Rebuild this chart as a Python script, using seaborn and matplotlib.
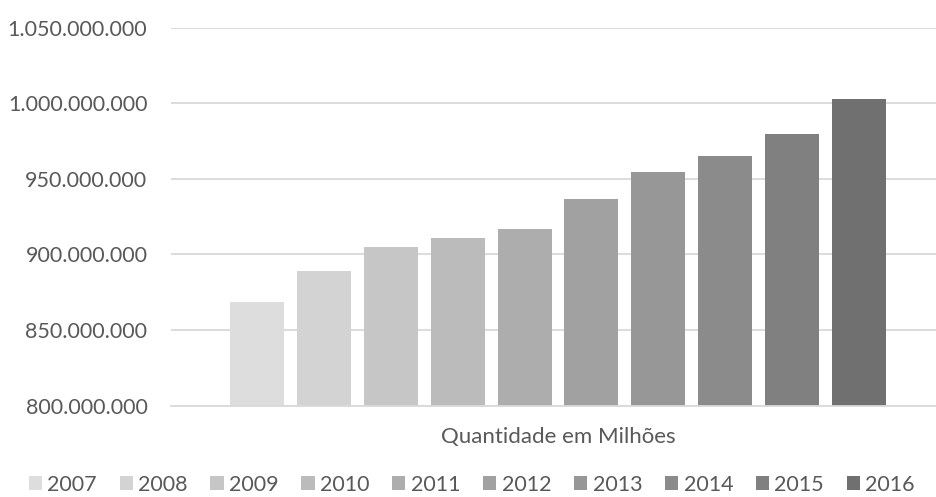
import pandas as pd
import matplotlib.pyplot as plt
import seaborn as sns
from matplotlib.ticker import FuncFormatter, MultipleLocator

# dados (quantidade por ano)
anos = ["2007", "2008", "2009", "2010", "2011", "2012", "2013", "2014", "2015", "2016"]
quantidade = [868600000, 889100000, 904900000, 910900000, 916600000,
              936600000, 954500000, 964800000, 979500000, 1002600000]
categoria = "Quantidade em Milhões"
cores = ["#DDDDDD", "#D3D3D3", "#C6C6C6", "#BBBBBB", "#ADADAD",
         "#A1A1A1", "#979797", "#8B8B8B", "#808080", "#707070"]

df = pd.DataFrame({"categoria": categoria, "ano": anos, "quantidade": quantidade})

sns.set_theme(style="white")
plt.rcParams["font.family"] = ["Lato", "DejaVu Sans"]

fig = plt.figure(figsize=(9.36, 4.97), dpi=100)
ax = fig.add_axes([171 / 936, 1 - 405.7 / 497, 774 / 936, (405.7 - 27.5) / 497])

sns.barplot(data=df, x="categoria", y="quantidade", hue="ano", hue_order=anos,
            palette=cores, width=0.8656, gap=0.194, saturation=1,
            legend=True, ax=ax, linewidth=0)

ax.set_ylim(800000000, 1050000000)
ax.set_xlim(-0.5, 0.5)
ax.yaxis.set_major_locator(MultipleLocator(50000000))
ax.yaxis.set_major_formatter(FuncFormatter(lambda v, p: f"{v:,.0f}".replace(",", ".")))
ax.grid(axis="y", color="#D9D9D9", linewidth=1.3)
ax.set_axisbelow(True)
for lado in ["top", "right", "left"]:
    ax.spines[lado].set_visible(False)
ax.spines["bottom"].set_color("#D9D9D9")
ax.spines["bottom"].set_linewidth(1.3)
ax.tick_params(axis="y", length=0, pad=17, labelsize=15.5, labelcolor="#595959")
ax.tick_params(axis="x", length=0, pad=15, labelsize=16, labelcolor="#595959")
ax.set_xlabel("")
ax.set_ylabel("")

handles, labels = ax.get_legend_handles_labels()
ax.get_legend().remove()
fig.legend(handles, labels, loc="lower center", bbox_to_anchor=(0.504, -0.034),
           ncol=10, frameon=False, fontsize=15.5, labelcolor="#595959",
           handlelength=0.62, handleheight=0.62, handletextpad=0.25,
           columnspacing=1.05)

fig.savefig("out.png", dpi=100)
